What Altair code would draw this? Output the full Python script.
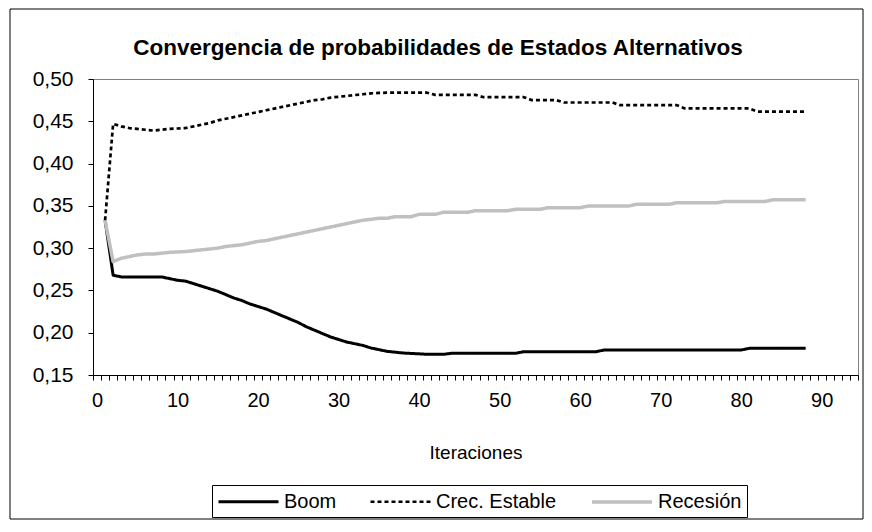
import altair as alt
import pandas as pd

iteraciones = list(range(1, 89))

boom = [
    0.333, 0.268, 0.266, 0.266, 0.266, 0.266, 0.266, 0.266, 0.264, 0.262,
    0.261, 0.258, 0.255, 0.252, 0.249, 0.245, 0.241, 0.238, 0.234, 0.231,
    0.228, 0.224, 0.220, 0.216, 0.212, 0.207, 0.203, 0.199, 0.195, 0.192,
    0.189, 0.187, 0.185, 0.182, 0.180, 0.178, 0.177, 0.176, 0.1755, 0.175,
    0.1745, 0.1745, 0.1745, 0.1757, 0.1757, 0.1757, 0.1757, 0.1757, 0.1757, 0.1757,
    0.1757, 0.1757, 0.1776, 0.1776, 0.1776, 0.1776, 0.1776, 0.1776, 0.1776, 0.1776,
    0.1776, 0.1776, 0.1796, 0.1796, 0.1796, 0.1796, 0.1796, 0.1796, 0.1796, 0.1796,
    0.1796, 0.1796, 0.1796, 0.1796, 0.1796, 0.1796, 0.1796, 0.1796, 0.1796, 0.1796,
    0.1815, 0.1815, 0.1815, 0.1815, 0.1815, 0.1815, 0.1815, 0.1815,
]

crec_estable = [
    0.333, 0.447, 0.444, 0.442, 0.441, 0.440, 0.439, 0.440, 0.441, 0.4415,
    0.442, 0.444, 0.446, 0.448, 0.451, 0.453, 0.455, 0.457, 0.459, 0.461,
    0.463, 0.465, 0.467, 0.469, 0.471, 0.473, 0.475, 0.476, 0.478, 0.479,
    0.480, 0.481, 0.482, 0.483, 0.4835, 0.4838, 0.4838, 0.4838, 0.4838, 0.4838,
    0.4838, 0.4812, 0.4812, 0.4812, 0.4812, 0.4812, 0.4812, 0.4785, 0.4785, 0.4785,
    0.4785, 0.4785, 0.4785, 0.4750, 0.4750, 0.4750, 0.4750, 0.4722, 0.4722, 0.4722,
    0.4722, 0.4722, 0.4722, 0.4722, 0.4690, 0.4690, 0.4690, 0.4690, 0.4690, 0.4690,
    0.4690, 0.4690, 0.4652, 0.4652, 0.4652, 0.4652, 0.4652, 0.4652, 0.4652, 0.4652,
    0.4652, 0.4615, 0.4615, 0.4615, 0.4615, 0.4615, 0.4615, 0.4615,
]

recesion = [
    0.333, 0.284, 0.288, 0.290, 0.292, 0.293, 0.293, 0.294, 0.295, 0.2955,
    0.296, 0.297, 0.298, 0.299, 0.300, 0.302, 0.303, 0.304, 0.306, 0.308,
    0.309, 0.311, 0.313, 0.315, 0.317, 0.319, 0.321, 0.323, 0.325, 0.327,
    0.329, 0.331, 0.333, 0.334, 0.3353, 0.3353, 0.3372, 0.3372, 0.3372, 0.3400,
    0.3400, 0.3400, 0.3424, 0.3424, 0.3424, 0.3424, 0.3443, 0.3443, 0.3443, 0.3443,
    0.3443, 0.3459, 0.3459, 0.3459, 0.3459, 0.3478, 0.3478, 0.3478, 0.3478, 0.3478,
    0.3498, 0.3498, 0.3498, 0.3498, 0.3498, 0.3498, 0.3518, 0.3518, 0.3518, 0.3518,
    0.3518, 0.3537, 0.3537, 0.3537, 0.3537, 0.3537, 0.3537, 0.3553, 0.3553, 0.3553,
    0.3553, 0.3553, 0.3553, 0.3573, 0.3573, 0.3573, 0.3573, 0.3573,
]

series = ["Boom", "Crec. Estable", "Recesión"]
colores = ["#000000", "#000000", "#c0c0c0"]
trazos = [[1, 0], [4, 3], [1, 0]]
grosores = [3, 2.7, 3.5]

titulo = "Convergencia de probabilidades de Estados Alternativos"
y_ticks = [0.15, 0.20, 0.25, 0.30, 0.35, 0.40, 0.45, 0.50]
x_ticks = [i - 0.5 for i in range(0, 96)]

rows = []
for name, vals in zip(series, [boom, crec_estable, recesion]):
    for it, v in zip(iteraciones, vals):
        rows.append({"Iteraciones": it, "valor": v, "serie": name})
df = pd.DataFrame(rows)

FONT = "Liberation Sans"

frame = alt.Chart(alt.Data(values=[{}])).mark_rect(
    filled=False, stroke="black", strokeWidth=1
).encode(
    x=alt.value(-83), x2=alt.value(770), y=alt.value(-70), y2=alt.value(440)
)

title_mark = alt.Chart(alt.Data(values=[{"t": titulo}])).mark_text(
    font=FONT, fontSize=22.5, fontWeight="bold", color="black",
    align="center", baseline="alphabetic",
).encode(
    text="t:N", x=alt.value(345), y=alt.value(-24)
)

lines = alt.Chart(df).mark_line(strokeJoin="round").encode(
    x=alt.X(
        "Iteraciones:Q",
        scale=alt.Scale(domain=[-0.5, 94.5], nice=False, zero=False),
        axis=alt.Axis(
            title="Iteraciones",
            values=x_ticks,
            labelExpr="(datum.value + 0.5) % 10 == 0 ? format(datum.value + 0.5, 'd') : ''",
            labelOffset=4,
            tickSize=5,
            labelPadding=10,
            titlePadding=33,
            grid=False,
            labelFlush=False,
            labelOverlap=False,
        ),
    ),
    y=alt.Y(
        "valor:Q",
        scale=alt.Scale(domain=[0.15, 0.50], nice=False, zero=False),
        axis=alt.Axis(
            title=None,
            values=y_ticks,
            labelExpr="replace(format(datum.value, '.2f'), '.', ',')",
            labelFontSize=21,
            tickSize=5,
            labelPadding=15,
            grid=False,
        ),
    ),
    color=alt.Color(
        "serie:N",
        title=None,
        scale=alt.Scale(domain=series, range=colores),
        legend=alt.Legend(
            orient="none",
            direction="horizontal",
            legendX=119,
            legendY=406,
            symbolType="M-1,0H5",
            symbolSize=400,
            labelOffset=44,
        ),
    ),
    strokeDash=alt.StrokeDash(
        "serie:N", title=None, scale=alt.Scale(domain=series, range=trazos)
    ),
    strokeWidth=alt.StrokeWidth(
        "serie:N", title=None,
        scale=alt.Scale(type="ordinal", domain=series, range=grosores),
    ),
    order=alt.Order("Iteraciones:Q"),
)

chart = alt.layer(frame, title_mark, lines).properties(
    width=765,
    height=296,
    autosize=alt.AutoSizeParams(type="none"),
    padding={"left": 85, "top": 71, "right": 6, "bottom": 145},
).configure(
    font=FONT,
).configure_view(
    stroke="#808080", strokeWidth=1
).configure_axis(
    labelFont=FONT,
    labelFontSize=20,
    labelColor="black",
    titleFont=FONT,
    titleFontSize=19,
    titleFontWeight="normal",
    titleColor="black",
    domainColor="black",
    tickColor="black",
    domainWidth=1,
).configure_legend(
    labelFont=FONT,
    labelFontSize=20,
    labelColor="black",
    strokeColor="black",
    fillColor="white",
    padding=5,
    columnPadding=28,
)

chart.save("out.html", embed_options={"renderer": "svg", "actions": False})
